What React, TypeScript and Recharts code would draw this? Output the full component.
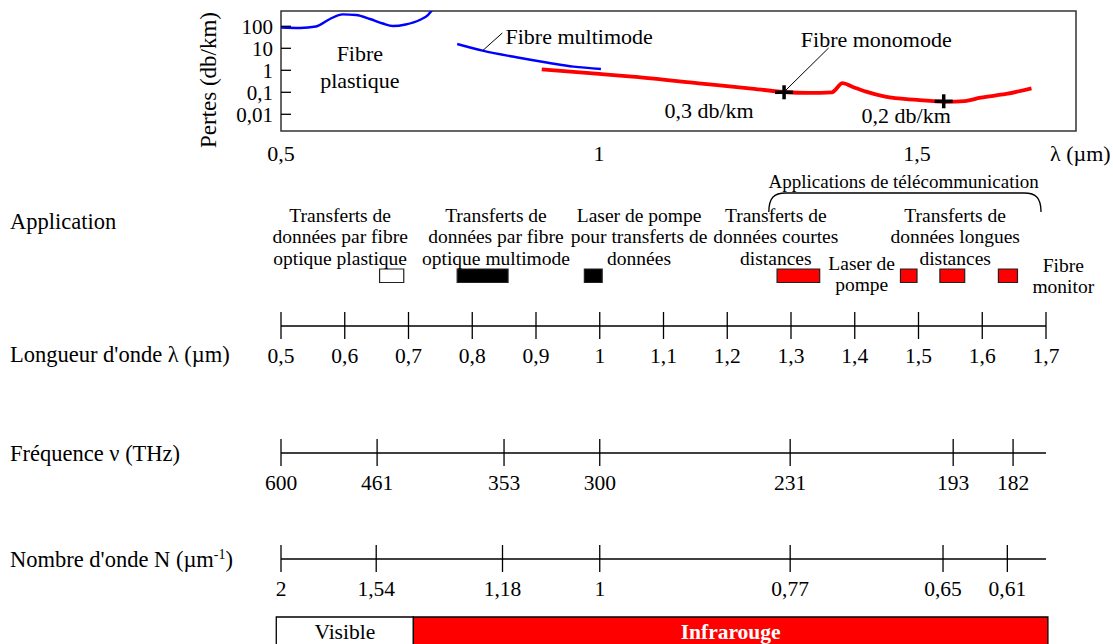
import React from 'react';
import { ComposedChart, Line, Scatter, XAxis, YAxis, ReferenceArea, ReferenceLine, ReferenceDot, Label } from 'recharts';

const FONT = "'Liberation Serif', 'Times New Roman', Times, 'DejaVu Serif', serif";
const W = 1113;

// pertes des fibres (λ en µm, pertes en dB/km)
const plasticLambda = [0.5, 0.53, 0.555, 0.577, 0.597, 0.618, 0.64, 0.66, 0.676, 0.696, 0.718, 0.731, 0.739];
const plasticLoss = [88, 84, 98, 215, 350, 325, 215, 134, 103, 121, 193, 326, 610];

const multimodeLambda = [0.777, 0.817, 0.87, 0.92, 0.96, 1.003];
const multimodeLoss = [15.7, 7.8, 3.9, 2.2, 1.46, 1.15];

const monomodeLambda = [0.91, 1.0, 1.052, 1.157, 1.236, 1.291, 1.33, 1.366, 1.383, 1.4, 1.42, 1.45, 1.5, 1.545, 1.575, 1.6, 1.64, 1.68];
const monomodeLoss = [1.1, 0.68, 0.51, 0.256, 0.152, 0.103, 0.094, 0.1, 0.26, 0.17, 0.107, 0.063, 0.045, 0.037, 0.04, 0.057, 0.084, 0.152];

const markLambda = [1.291, 1.542];
const markLoss = [0.1, 0.039];

const lossTicks = [0.01, 0.1, 1, 10, 100];
const topLambdaTicks = [0.5, 1, 1.5];

// applications
const appStart = [0.655, 0.777, 0.977, 1.28, 1.474, 1.536, 1.628];
const appEnd = [0.693, 0.857, 1.005, 1.347, 1.5, 1.575, 1.658];
const appKind = ['plastique', 'multimode', 'pompe', 'telecom', 'telecom', 'telecom', 'telecom'];

const appTexts = [
  ['Transferts de', 'données par fibre', 'optique plastique'],
  ['Transferts de', 'données par fibre', 'optique multimode'],
  ['Laser de pompe', 'pour transferts de', 'données'],
  ['Transferts de', 'données courtes', 'distances'],
  ['Laser de', 'pompe'],
  ['Transferts de', 'données longues', 'distances'],
  ['Fibre', 'monitor'],
];
const appTextLambda = [0.593, 0.838, 1.063, 1.278, 1.413, 1.56, 1.73];

// échelles
const wavelengthTicks = [0.5, 0.6, 0.7, 0.8, 0.9, 1, 1.1, 1.2, 1.3, 1.4, 1.5, 1.6, 1.7];
const frequencyTicks = [600, 461, 353, 300, 231, 193, 182];
const wavenumberTicks = [2, 1.54, 1.18, 1, 0.77, 0.65, 0.61];

const spectrumStart = [0.492, 0.707];
const spectrumEnd = [0.707, 1.702];
const spectrumName = ['Visible', 'Infrarouge'];

const comma = (v: number) => String(v).replace('.', ',');
const zip = (xs: number[], ys: number[]) => xs.map((lam, i) => ({ lam, loss: ys[i] }));

const kindFill: Record<string, string> = { plastique: '#fff', multimode: '#000', pompe: '#000', telecom: '#ff0000' };

const note = (lines: string[], size: number, gap = 22, anchor: 'middle' | 'start' = 'middle') => (props: any) => {
  const vb = props.viewBox || {};
  const cx = vb.x + (vb.width || 0) / 2;
  const cy = vb.y + (vb.height || 0) / 2;
  return (
    <text x={cx} y={cy} textAnchor={anchor} style={{ fontFamily: FONT }} fontSize={size} fill="#000">
      {lines.map((l, i) => (
        <tspan key={i} x={cx} y={cy + i * gap} dy="0.35em">{l}</tspan>
      ))}
    </text>
  );
};

const PlusMark = (p: any) => (
  <g stroke="#000" strokeWidth={3.5}>
    <line x1={p.cx - 9} x2={p.cx + 9} y1={p.cy} y2={p.cy} />
    <line x1={p.cx} x2={p.cx} y1={p.cy - 7} y2={p.cy + 7} />
  </g>
);

const LossYTick = (p: any) => {
  const v = p.payload.value;
  return (
    <g>
      <line x1={p.x} x2={p.x + 10} y1={p.y} y2={p.y} stroke="#000" strokeWidth={1.3} />
      <text x={p.x - 8} y={p.y} dy="0.35em" textAnchor="end" style={{ fontFamily: FONT }} fontSize={21} fill="#000">{comma(v)}</text>
    </g>
  );
};

const LossXTick = (p: any) => (
  <text x={p.x} y={p.y + 30} textAnchor="middle" style={{ fontFamily: FONT }} fontSize={22} fill="#000">{comma(p.payload.value)}</text>
);

const crossTick = (fmt: (lam: number) => string) => (p: any) => (
  <g>
    <line x1={p.x} x2={p.x} y1={p.y - 14} y2={p.y + 13} stroke="#000" strokeWidth={1.3} />
    <text x={p.x} y={p.y + 37} textAnchor="middle" style={{ fontFamily: FONT }} fontSize={21.5} fill="#000">{fmt(p.payload.value)}</text>
  </g>
);

const Brace = (p: any) => {
  const { x, y, width, height } = p;
  const r = 17;
  return (
    <path
      d={`M${x},${y + height} C${x},${y + 5} ${x + 5},${y} ${x + r},${y} L${x + width - r},${y} C${x + width - 5},${y} ${x + width},${y + 5} ${x + width},${y + height}`}
      fill="none"
      stroke="#000"
      strokeWidth={1.3}
    />
  );
};

function LossChart() {
  return (
    <ComposedChart width={W} height={172} margin={{ top: 11, right: 37, bottom: 2, left: 190 }}>
      <XAxis type="number" dataKey="lam" domain={[0.5, 1.75]} allowDataOverflow ticks={topLambdaTicks} interval={0}
        height={39} tickLine={false} tickSize={0} tickMargin={0} axisLine={false} tick={LossXTick}>
        <Label content={(p: any) => (
          <text x={p.viewBox.x + p.viewBox.width - 26} y={p.viewBox.y + 30} style={{ fontFamily: FONT }} fontSize={22} fill="#000">λ (µm)</text>
        )} />
      </XAxis>
      <YAxis type="number" dataKey="loss" scale="log" domain={[0.00174, 496]} allowDataOverflow ticks={lossTicks} interval={0}
        width={91} tickLine={false} tickSize={0} tickMargin={0} axisLine={false} tick={LossYTick}>
        <Label content={(p: any) => {
          const x = p.viewBox.x + 18;
          const y = p.viewBox.y + p.viewBox.height / 2 + 9;
          return (
            <text x={x} y={y} transform={`rotate(-90 ${x} ${y})`} textAnchor="middle" dy="0.35em" style={{ fontFamily: FONT }} fontSize={23} fill="#000">Pertes (db/km)</text>
          );
        }} />
      </YAxis>
      <ReferenceArea x1={0.5} x2={1.75} y1={0.00174} y2={496} fill="none" stroke="#333" strokeWidth={1.5} ifOverflow="visible" />
      <Line data={zip(plasticLambda, plasticLoss)} dataKey="loss" type="monotone" stroke="#0000ff" strokeWidth={2.4} dot={false} isAnimationActive={false} />
      <Line data={zip(multimodeLambda, multimodeLoss)} dataKey="loss" type="monotone" stroke="#0000ff" strokeWidth={2.4} dot={false} isAnimationActive={false} />
      <Line data={zip(monomodeLambda, monomodeLoss)} dataKey="loss" type="monotone" stroke="#ff0000" strokeWidth={3.8} dot={false} isAnimationActive={false} />
      <Scatter data={zip(markLambda, markLoss)} dataKey="loss" shape={PlusMark} isAnimationActive={false} />
      <ReferenceLine segment={[{ x: 0.848, y: 49.6 }, { x: 0.817, y: 7.8 }]} stroke="#000" strokeWidth={1} />
      <ReferenceLine segment={[{ x: 1.361, y: 10.3 }, { x: 1.294, y: 0.127 }]} stroke="#000" strokeWidth={1} />
      <ReferenceDot x={0.624} y={6.1} r={1} fill="none" stroke="none" label={{ content: note(['Fibre', 'plastique'], 22, 27) }} />
      <ReferenceDot x={0.853} y={33.7} r={1} fill="none" stroke="none" label={{ content: note(['Fibre multimode'], 22, 22, 'start') }} />
      <ReferenceDot x={1.436} y={26.5} r={1} fill="none" stroke="none" label={{ content: note(['Fibre monomode'], 22) }} />
      <ReferenceDot x={1.173} y={0.0157} r={1} fill="none" stroke="none" label={{ content: note(['0,3 db/km'], 22) }} />
      <ReferenceDot x={1.483} y={0.0093} r={1} fill="none" stroke="none" label={{ content: note(['0,2 db/km'], 22) }} />
    </ComposedChart>
  );
}

function AppChart() {
  const firstLine = [45, 45, 45, 45, 93, 45, 95];
  const data = appStart.map((lam) => ({ lam }));
  return (
    <ComposedChart width={W} height={130} data={data} margin={{ top: 0, right: 37, bottom: 0, left: 281 }}>
      <XAxis hide type="number" dataKey="lam" domain={[0.5, 1.75]} allowDataOverflow />
      <YAxis hide type="number" domain={[0, 130]} reversed allowDataOverflow />
      {appStart.map((s, i) => (
        <ReferenceArea key={'a' + i} x1={s} x2={appEnd[i]} y1={99} y2={112.5} fill={kindFill[appKind[i]]} fillOpacity={1} stroke="#222" strokeWidth={1.2} />
      ))}
      {appTexts.map((lines, i) => (
        <ReferenceDot key={'t' + i} x={appTextLambda[i]} y={firstLine[i]} r={1} fill="none" stroke="none" label={{ content: note(lines, 19.5, 21.5) }} />
      ))}
      <ReferenceArea x1={1.267} x2={1.695} y1={23} y2={42} shape={Brace} />
      <ReferenceDot x={1.479} y={11} r={1} fill="none" stroke="none" label={{ content: note(['Applications de télécommunication'], 19) }} />
    </ComposedChart>
  );
}

function ScaleRow({ top, ticks, format }: { top: number; ticks: number[]; format: (lam: number) => string }) {
  const data = ticks.map((lam) => ({ lam }));
  return (
    <div style={{ position: 'absolute', left: 0, top }}>
      <ComposedChart width={W} height={72} data={data} margin={{ top: 19, right: 67, bottom: 0, left: 281 }}>
        <YAxis hide type="number" domain={[0, 1]} />
        <XAxis type="number" dataKey="lam" domain={[0.5, 1.7]} allowDataOverflow ticks={ticks} interval={0} height={52}
          tickLine={false} tickSize={0} tickMargin={0} axisLine={{ stroke: '#000', strokeWidth: 1.3 }} tick={crossTick(format)} />
      </ComposedChart>
    </div>
  );
}

function SpectrumBar() {
  const data = [...spectrumStart, ...spectrumEnd].map((lam) => ({ lam, v: 0.5 }));
  // même échelle que les axes (637,5 px/µm, 0,5 µm à x = 281)
  return (
    <ComposedChart width={W} height={50} data={data} margin={{ top: 7, right: 60, bottom: 0, left: 275 }}>
      <XAxis hide type="number" dataKey="lam" domain={[0.49, 1.71]} allowDataOverflow />
      <YAxis hide type="number" dataKey="v" domain={[0, 1]} allowDataOverflow />
      {spectrumStart.map((s, i) => (
        <ReferenceArea key={i} x1={s} x2={spectrumEnd[i]} y1={0} y2={1}
          fill={i === 0 ? '#fff' : '#ff0000'} fillOpacity={1} stroke="#000" strokeWidth={1.3}
          label={{
            content: (p: any) => (
              <text x={p.viewBox.x + p.viewBox.width / 2} y={p.viewBox.y + 22} textAnchor="middle" style={{ fontFamily: FONT }}
                fontSize={21.5} fontWeight={i === 0 ? 'normal' : 'bold'} fill={i === 0 ? '#000' : '#fff'}>{spectrumName[i]}</text>
            ),
          }} />
      ))}
    </ComposedChart>
  );
}

const rowLabel = (top: number): React.CSSProperties => ({
  position: 'absolute', left: 10, top, fontSize: 22.5, lineHeight: '24px', whiteSpace: 'nowrap', color: '#000', fontFamily: FONT,
});

export default function App() {
  return (
    <div style={{ position: 'absolute', left: 0, top: 0, width: W, height: 644, background: '#fff', fontFamily: FONT, overflow: 'hidden' }}>
      <div style={{ position: 'absolute', left: 0, top: 0 }}><LossChart /></div>
      <div style={{ position: 'absolute', left: 0, top: 170 }}><AppChart /></div>
      <ScaleRow top={306} ticks={wavelengthTicks} format={comma} />
      <ScaleRow top={433} ticks={frequencyTicks.map((f) => 300 / f)} format={(lam) => String(Math.round(300 / lam))} />
      <ScaleRow top={539} ticks={wavenumberTicks.map((n) => 1 / n)} format={(lam) => comma(Number((1 / lam).toFixed(2)))} />
      <div style={{ position: 'absolute', left: 0, top: 610 }}><SpectrumBar /></div>
      <div style={rowLabel(210)}>Application</div>
      <div style={rowLabel(343)}>Longueur d'onde λ (µm)</div>
      <div style={rowLabel(442)}>Fréquence ν (THz)</div>
      <div style={rowLabel(548)}>
        Nombre d'onde N (µm<span style={{ fontSize: 14, position: 'relative', top: -8 }}>-1</span>)
      </div>
    </div>
  );
}
